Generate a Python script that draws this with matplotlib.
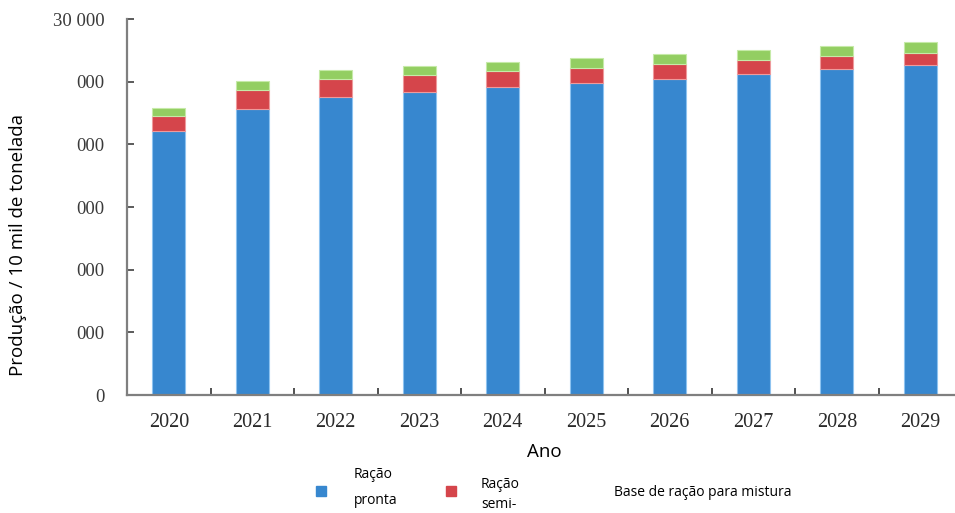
import matplotlib
matplotlib.use("Agg")
import matplotlib.pyplot as plt
from matplotlib.patches import Rectangle

# Feed production by type, in 10 thousand tonnes
anos = ["2020", "2021", "2022", "2023", "2024", "2025", "2026", "2027", "2028", "2029"]
racao_pronta = [21090, 22820, 23750, 24180, 24580, 24920, 25240, 25640, 26040, 26310]
racao_semi = [1200, 1520, 1440, 1360, 1250, 1200, 1150, 1090, 1010, 960]
base_mistura = [590, 720, 720, 720, 740, 800, 820, 800, 800, 880]

y_ticks = [0, 5000, 10000, 15000, 20000, 25000, 30000]
y_tick_labels = ["0", "000", "000", "000", "000", "000", "30 000"]

cor_azul = "#3787CF"
cor_vermelho = "#D5454B"
cor_verde = "#93CE62"

W, H = 955, 513
fig = plt.figure(figsize=(W / 100, H / 100), dpi=100)
ax = fig.add_axes([127 / W, (H - 395) / H, (962 - 127) / W, (395 - 19) / H])

x = list(range(len(anos)))
largura = 0.4
ax.bar(x, racao_pronta, width=largura, color=cor_azul, edgecolor="#8EC3F0", linewidth=0.8)
base2 = racao_pronta
ax.bar(x, racao_semi, width=largura, bottom=base2, color=cor_vermelho, edgecolor="#EE9A9C", linewidth=0.8)
base3 = [a + b for a, b in zip(racao_pronta, racao_semi)]
ax.bar(x, base_mistura, width=largura, bottom=base3, color=cor_verde, edgecolor="#C6EAA8", linewidth=0.8)

ax.set_xlim(-0.5, len(anos) - 0.5)
ax.set_ylim(0, 30000)

for s in ["top", "right"]:
    ax.spines[s].set_visible(False)
for s in ["left", "bottom"]:
    ax.spines[s].set_color("#7F7F7F")
    ax.spines[s].set_linewidth(1.6)

ax.set_yticks(y_ticks)
ax.set_yticklabels(y_tick_labels, family="Liberation Serif", fontsize=13.5, color="#3A3A3A")
ax.tick_params(axis="y", direction="in", length=5, width=1.4, color="#5A5A5A", pad=16)

# Category labels centred under the bars, tick marks at the boundaries
ax.set_xticks(x)
ax.set_xticklabels(anos, family="Liberation Serif", fontsize=14.5, color="#2A2A2A")
ax.tick_params(axis="x", which="major", length=0, pad=13)
ax.set_xticks([i + 0.5 for i in x[:-1]], minor=True)
ax.tick_params(axis="x", which="minor", direction="in", length=5, width=1.2, color="#333333")

ax.set_xlabel("Ano", family="Open Sans", fontsize=13.5, labelpad=8)
fig.text(18 / W, 1 - 245 / H, "Produção / 10 mil de tonelada", family="Open Sans",
         fontsize=13.5, rotation=90, ha="center", va="center")

# Legend row at the bottom
def caixa(cx, cy, cor):
    fig.patches.append(Rectangle(((cx - 5) / W, 1 - (cy + 5) / H), 10 / W, 10 / H,
                                 transform=fig.transFigure, color=cor, figure=fig))

fs_leg = 10
caixa(321, 491, cor_azul)
fig.text(354 / W, 1 - 474 / H, "Ração", family="Open Sans", fontsize=fs_leg, va="center")
fig.text(354 / W, 1 - 500 / H, "pronta", family="Open Sans", fontsize=fs_leg, va="center")
caixa(451, 491, cor_vermelho)
fig.text(481 / W, 1 - 484 / H, "Ração", family="Open Sans", fontsize=fs_leg, va="center")
fig.text(481 / W, 1 - 505 / H, "semi-", family="Open Sans", fontsize=fs_leg, va="center")
fig.text(614 / W, 1 - 493 / H, "Base de ração para mistura", family="Open Sans",
         fontsize=fs_leg, va="center")

fig.savefig("out.png", dpi=100)
